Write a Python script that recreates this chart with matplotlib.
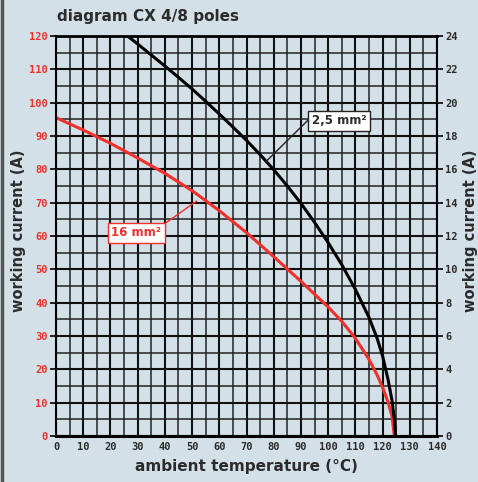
import matplotlib
matplotlib.use("Agg")
import matplotlib.pyplot as plt
from matplotlib.ticker import MultipleLocator

# ---- data ----
temp_25 = [26.3, 30, 35, 40, 45, 50, 55, 60, 65, 70, 75, 80, 85, 90, 95, 100,
           105, 110, 115, 118, 120, 122, 123.5, 124.5, 124.8]
curr_25 = [120, 117.6, 114.3, 111.0, 107.6, 104.1, 100.4, 96.6, 92.7, 88.7, 84.4,
           79.9, 75.0, 69.8, 64.1, 58.0, 51.4, 44.0, 35.6, 29.3, 24.0, 17.0, 10.5, 4.0, 0]

temp_16 = [0, 10, 20, 30, 40, 50, 60, 70, 80, 90, 100, 105, 110, 115, 118, 120,
           122, 123.5, 124.3]
curr_16 = [95.5, 91.8, 87.8, 83.4, 78.8, 73.6, 67.6, 61.0, 53.8, 46.4, 38.7,
           34.4, 29.3, 23.0, 18.3, 14.6, 10.2, 5.8, 0]

label_25 = "2,5 mm²"
label_16 = "16 mm²"
title = "diagram CX 4/8 poles"
xlabel = "ambient temperature (°C)"
ylabel = "working current (A)"

BG = "#d3e0e7"
RED = "#f0302a"
TXT = "#2b2b2b"

fig = plt.figure(figsize=(4.78, 4.82), dpi=100, facecolor=BG)
ax = fig.add_axes([56/478, 1-436/482, 381/478, 400/482])
ax.set_facecolor(BG)

ax.set_xlim(0, 140)
ax.set_ylim(0, 120)
ax.xaxis.set_major_locator(MultipleLocator(10))
ax.xaxis.set_minor_locator(MultipleLocator(5))
ax.yaxis.set_major_locator(MultipleLocator(10))
ax.yaxis.set_minor_locator(MultipleLocator(5))
ax.grid(which="major", color="#111111", lw=1.5)
ax.grid(which="minor", color="#222222", lw=1.1)
ax.set_axisbelow(True)

for s in ax.spines.values():
    s.set_color("black")
    s.set_linewidth(1.5)
ax.spines["bottom"].set_linewidth(2.2)
ax.spines["top"].set_linewidth(2.0)

ax.tick_params(axis="x", which="both", length=0, pad=4, labelsize=7.5, labelcolor=TXT)
ax.tick_params(axis="y", which="major", length=4, width=1.2, pad=2, labelsize=7.5,
               labelcolor=RED)
ax.tick_params(axis="y", which="minor", length=0)
for lab in ax.get_xticklabels() + ax.get_yticklabels():
    lab.set_fontfamily("DejaVu Sans Mono")
    lab.set_fontweight("bold")

ax.plot(temp_16, curr_16, color=RED, lw=2.2, solid_capstyle="butt")
ax.plot(temp_25, curr_25, color="black", lw=2.2, solid_capstyle="butt")

ax2 = ax.twinx()
ax2.set_ylim(0, 24)
ax2.yaxis.set_major_locator(MultipleLocator(2))
ax2.tick_params(axis="y", length=4, width=1.2, pad=2, labelsize=7.5, labelcolor=TXT)
for lab in ax2.get_yticklabels():
    lab.set_fontfamily("DejaVu Sans Mono")
    lab.set_fontweight("bold")
for s in ax2.spines.values():
    s.set_visible(False)

# labels with leader lines
ax.annotate(label_25, xy=(77, 82.2), xytext=(104, 94.5), ha="center", va="center",
            fontsize=8.5, fontweight="bold", color=TXT,
            bbox=dict(boxstyle="square,pad=0.3", fc="white", ec="#222222", lw=1),
            arrowprops=dict(arrowstyle="-", color="#222222", lw=1, shrinkA=0, shrinkB=0,
                            relpos=(0, 0.85)))
ax.annotate(label_16, xy=(51.7, 70.5), xytext=(29.5, 61), ha="center", va="center",
            fontsize=8.5, fontweight="bold", color=RED,
            bbox=dict(boxstyle="square,pad=0.3", fc="white", ec=RED, lw=1),
            arrowprops=dict(arrowstyle="-", color=RED, lw=1, shrinkA=0, shrinkB=0,
                            relpos=(1, 1)))

fig.text(57/478, 1-17/482, title, ha="left", va="center", fontsize=11,
         fontweight="bold", color=TXT)
fig.text(246/478, 1-467/482, xlabel, ha="center", va="center", fontsize=11,
         fontweight="bold", color=TXT)
fig.text(19/478, 1-231/482, ylabel, ha="center", va="center", rotation=90,
         fontsize=10.5, fontweight="bold", color=TXT)
fig.text(470/478, 1-231/482, ylabel, ha="center", va="center", rotation=90,
         fontsize=10.5, fontweight="bold", color=TXT)

# left frame line of the figure
fig.add_artist(plt.Line2D([1.5/478, 1.5/478], [0, 1], transform=fig.transFigure,
                          color="#555555", lw=2.5))

fig.savefig("out.png", dpi=100, facecolor=BG)
